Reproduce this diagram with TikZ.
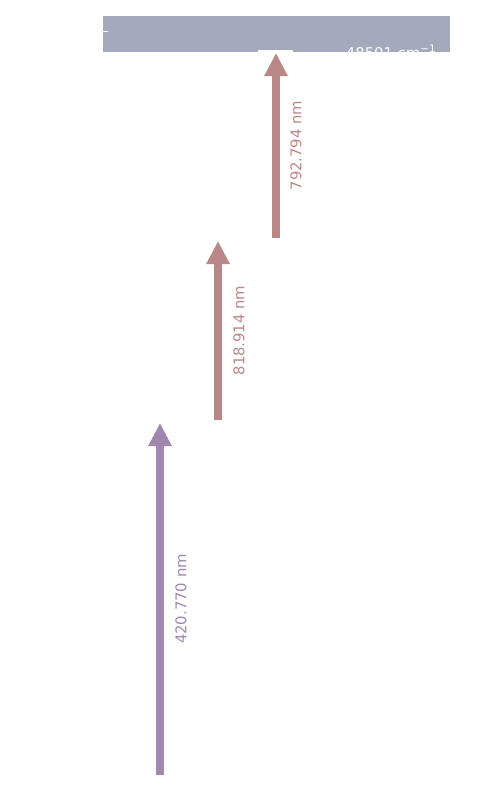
\documentclass[tikz,border=0pt]{standalone}
\usepackage{fontspec}
\setmainfont{DejaVu Sans}
\usepackage{tikz}
\usetikzlibrary{arrows.meta, positioning, calc}

\definecolor{bandgray}{HTML}{A5A9BE}
\definecolor{stepviolet}{HTML}{9F87AF}
\definecolor{steprose}{HTML}{B98886}

\begin{document}
\begin{tikzpicture}[
    x=0.5pt, y=-0.5pt,
    trans/.style={-{Triangle[width=11pt, length=11.5pt]}, line width=3.8pt},
    wl/.style={rotate=90, inner sep=0pt, font=\fontsize{7.4}{9}\selectfont}
]
\useasboundingbox (0,0) rectangle (500,800);

% ionisation band at the top
\fill[bandgray] (103,16) rectangle (450,52);
\begin{scope}
  \clip (103,16) rectangle (450,52);
  \node[anchor=north east, inner sep=0pt, text=white, font=\fontsize{7.4}{9}\selectfont] (ip) at (437,45) {48501 cm\textsuperscript{−1}};
\end{scope}
\draw[white, line width=0.5pt] (103,31) -- (108,31);
\draw[white, line width=1pt] (258,51) -- (293,51);

% levels
\coordinate (ground) at (160,775);
\coordinate (lev1) at (160,423);
\coordinate (lev1b) at (218,420);
\coordinate (lev2) at (218,241);
\coordinate (lev2b) at (276,238);
\coordinate (lev3) at (276,53);

% excitation steps
\draw[trans, stepviolet] (ground) -- (lev1);
\draw[trans, steprose] (lev1b) -- (lev2);
\draw[trans, steprose] (lev2b) -- (lev3);

% wavelengths
\node[wl, text=stepviolet] (l1) at ($(ground)!0.5!(lev1)+(21,0)$) {420.770 nm};
\node[wl, text=steprose] (l2) at ($(lev1b)!0.5!(lev2)+(21,0)$) {818.914 nm};
\node[wl, text=steprose] (l3) at ($(lev2b)!0.5!(lev3)+(20,0)$) {792.794 nm};

\end{tikzpicture}
\end{document}
